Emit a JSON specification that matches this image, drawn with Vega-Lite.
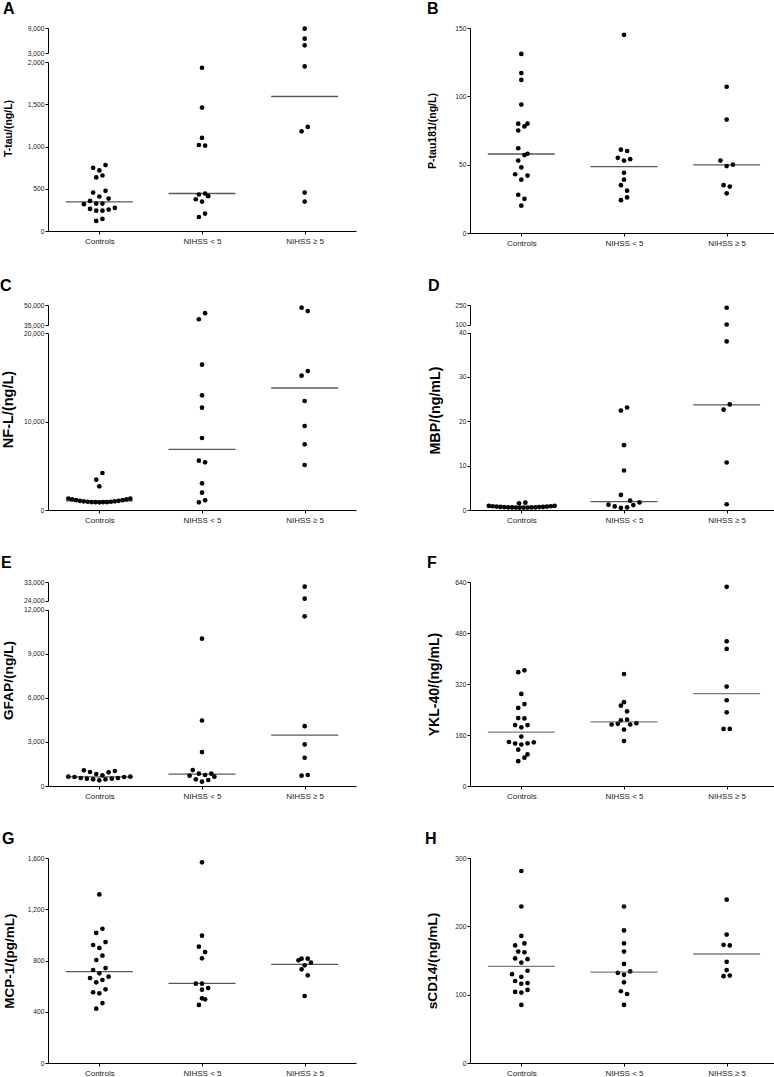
{
  "$schema": "https://vega.github.io/schema/vega-lite/v6.json",
  "padding": {"left": 0, "top": 1, "right": 0, "bottom": 0},
  "background": "white",
  "config": {
    "view": {"stroke": null},
    "font": "Liberation Sans",
    "title": {"fontSize": 16, "fontWeight": "bold", "anchor": "start", "frame": "bounds", "offset": 8, "color": "#000"},
    "axis": {"grid": false, "domainColor": "#000", "tickColor": "#000", "labelColor": "#222", "domainWidth": 1, "tickWidth": 1, "tickSize": 3},
    "axisX": {"labelFontSize": 8, "labelPadding": 3, "labelAngle": 0, "title": null},
    "axisY": {"labelFontSize": 6.7, "labelPadding": 1, "titleFontWeight": "bold", "titleColor": "#000", "titleFontSize": 14, "format": ",d"}
  },
  "datasets": {
    "pts": [
      {"p":"A","g":"Controls","v":748,"s":-2},{"p":"A","g":"Controls","v":780,"s":2},{"p":"A","g":"Controls","v":717,"s":0},{"p":"A","g":"Controls","v":634,"s":-1},{"p":"A","g":"Controls","v":657,"s":1},{"p":"A","g":"Controls","v":455,"s":-2},{"p":"A","g":"Controls","v":475,"s":2},{"p":"A","g":"Controls","v":408,"s":0},{"p":"A","g":"Controls","v":356,"s":-3},{"p":"A","g":"Controls","v":384,"s":3},{"p":"A","g":"Controls","v":317,"s":-5},{"p":"A","g":"Controls","v":325,"s":-1},{"p":"A","g":"Controls","v":325,"s":1},{"p":"A","g":"Controls","v":261,"s":-3},{"p":"A","g":"Controls","v":241,"s":-1},{"p":"A","g":"Controls","v":241,"s":1},{"p":"A","g":"Controls","v":253,"s":3},{"p":"A","g":"Controls","v":273,"s":5},{"p":"A","g":"Controls","v":143,"s":1},{"p":"A","g":"Controls","v":119,"s":-1},
      {"p":"A","g":"NIHSS < 5","v":1932,"s":0},{"p":"A","g":"NIHSS < 5","v":1461,"s":0},{"p":"A","g":"NIHSS < 5","v":1101,"s":0},{"p":"A","g":"NIHSS < 5","v":1018,"s":-1},{"p":"A","g":"NIHSS < 5","v":1010,"s":1},{"p":"A","g":"NIHSS < 5","v":432,"s":-1},{"p":"A","g":"NIHSS < 5","v":444,"s":1},{"p":"A","g":"NIHSS < 5","v":412,"s":2},{"p":"A","g":"NIHSS < 5","v":376,"s":-2},{"p":"A","g":"NIHSS < 5","v":348,"s":0},{"p":"A","g":"NIHSS < 5","v":206,"s":1},{"p":"A","g":"NIHSS < 5","v":166,"s":-1},
      {"p":"A","g":"NIHSS ≥ 5","v":8840,"s":0},{"p":"A","g":"NIHSS ≥ 5","v":6440,"s":0},{"p":"A","g":"NIHSS ≥ 5","v":4840,"s":0},{"p":"A","g":"NIHSS ≥ 5","v":1948,"s":0},{"p":"A","g":"NIHSS ≥ 5","v":1232,"s":1},{"p":"A","g":"NIHSS ≥ 5","v":1180,"s":-1},{"p":"A","g":"NIHSS ≥ 5","v":455,"s":0},{"p":"A","g":"NIHSS ≥ 5","v":348,"s":0},

      {"p":"B","g":"Controls","v":131,"s":0},{"p":"B","g":"Controls","v":117,"s":0},{"p":"B","g":"Controls","v":112,"s":0},{"p":"B","g":"Controls","v":94,"s":0},{"p":"B","g":"Controls","v":80,"s":-1},{"p":"B","g":"Controls","v":80,"s":2},{"p":"B","g":"Controls","v":78,"s":1},{"p":"B","g":"Controls","v":75,"s":-1},{"p":"B","g":"Controls","v":62,"s":-1},{"p":"B","g":"Controls","v":57,"s":1},{"p":"B","g":"Controls","v":58,"s":2},{"p":"B","g":"Controls","v":53,"s":-1},{"p":"B","g":"Controls","v":48,"s":0},{"p":"B","g":"Controls","v":43,"s":-2},{"p":"B","g":"Controls","v":42,"s":2},{"p":"B","g":"Controls","v":39,"s":0},{"p":"B","g":"Controls","v":28,"s":-1},{"p":"B","g":"Controls","v":25,"s":1},{"p":"B","g":"Controls","v":20,"s":0},
      {"p":"B","g":"NIHSS < 5","v":145,"s":0},{"p":"B","g":"NIHSS < 5","v":61,"s":-1},{"p":"B","g":"NIHSS < 5","v":60,"s":1},{"p":"B","g":"NIHSS < 5","v":55,"s":-2},{"p":"B","g":"NIHSS < 5","v":53,"s":0},{"p":"B","g":"NIHSS < 5","v":54,"s":2},{"p":"B","g":"NIHSS < 5","v":44,"s":0},{"p":"B","g":"NIHSS < 5","v":39,"s":0},{"p":"B","g":"NIHSS < 5","v":35,"s":-1},{"p":"B","g":"NIHSS < 5","v":31,"s":1},{"p":"B","g":"NIHSS < 5","v":24,"s":-1},{"p":"B","g":"NIHSS < 5","v":26,"s":1},
      {"p":"B","g":"NIHSS ≥ 5","v":107,"s":0},{"p":"B","g":"NIHSS ≥ 5","v":83,"s":0},{"p":"B","g":"NIHSS ≥ 5","v":53,"s":-2},{"p":"B","g":"NIHSS ≥ 5","v":49,"s":0},{"p":"B","g":"NIHSS ≥ 5","v":50,"s":2},{"p":"B","g":"NIHSS ≥ 5","v":35,"s":-1},{"p":"B","g":"NIHSS ≥ 5","v":34,"s":1},{"p":"B","g":"NIHSS ≥ 5","v":29,"s":0},

      {"p":"C","g":"Controls","v":1300,"s":-10},{"p":"C","g":"Controls","v":1200,"s":-8.75},{"p":"C","g":"Controls","v":1110,"s":-7.5},{"p":"C","g":"Controls","v":1040,"s":-6.25},{"p":"C","g":"Controls","v":980,"s":-5},{"p":"C","g":"Controls","v":930,"s":-3.75},{"p":"C","g":"Controls","v":900,"s":-2.5},{"p":"C","g":"Controls","v":880,"s":-1.25},{"p":"C","g":"Controls","v":870,"s":0},{"p":"C","g":"Controls","v":880,"s":1.25},{"p":"C","g":"Controls","v":900,"s":2.5},{"p":"C","g":"Controls","v":930,"s":3.75},{"p":"C","g":"Controls","v":980,"s":5},{"p":"C","g":"Controls","v":1040,"s":6.25},{"p":"C","g":"Controls","v":1110,"s":7.5},{"p":"C","g":"Controls","v":1200,"s":8.75},{"p":"C","g":"Controls","v":1280,"s":10},{"p":"C","g":"Controls","v":4180,"s":1},{"p":"C","g":"Controls","v":3427,"s":-1},{"p":"C","g":"Controls","v":2674,"s":0},
      {"p":"C","g":"NIHSS < 5","v":43900,"s":1},{"p":"C","g":"NIHSS < 5","v":39300,"s":-1},{"p":"C","g":"NIHSS < 5","v":16420,"s":0},{"p":"C","g":"NIHSS < 5","v":12955,"s":0},{"p":"C","g":"NIHSS < 5","v":11562,"s":0},{"p":"C","g":"NIHSS < 5","v":8135,"s":0},{"p":"C","g":"NIHSS < 5","v":5574,"s":-1},{"p":"C","g":"NIHSS < 5","v":5385,"s":1},{"p":"C","g":"NIHSS < 5","v":3013,"s":0},{"p":"C","g":"NIHSS < 5","v":1958,"s":0},{"p":"C","g":"NIHSS < 5","v":866,"s":-1},{"p":"C","g":"NIHSS < 5","v":1092,"s":1},
      {"p":"C","g":"NIHSS ≥ 5","v":47966,"s":-1},{"p":"C","g":"NIHSS ≥ 5","v":45424,"s":1},{"p":"C","g":"NIHSS ≥ 5","v":15704,"s":1},{"p":"C","g":"NIHSS ≥ 5","v":15177,"s":-1},{"p":"C","g":"NIHSS ≥ 5","v":12315,"s":0},{"p":"C","g":"NIHSS ≥ 5","v":9490,"s":0},{"p":"C","g":"NIHSS ≥ 5","v":7419,"s":0},{"p":"C","g":"NIHSS ≥ 5","v":5084,"s":0},

      {"p":"D","g":"Controls","v":0.95,"s":-10.5},{"p":"D","g":"Controls","v":0.85,"s":-9.25},{"p":"D","g":"Controls","v":0.77,"s":-8},{"p":"D","g":"Controls","v":0.7,"s":-6.75},{"p":"D","g":"Controls","v":0.65,"s":-5.5},{"p":"D","g":"Controls","v":0.61,"s":-4.25},{"p":"D","g":"Controls","v":0.58,"s":-3},{"p":"D","g":"Controls","v":0.56,"s":-1.75},{"p":"D","g":"Controls","v":0.55,"s":-0.5},{"p":"D","g":"Controls","v":0.55,"s":0.75},{"p":"D","g":"Controls","v":0.56,"s":2},{"p":"D","g":"Controls","v":0.58,"s":3.25},{"p":"D","g":"Controls","v":0.61,"s":4.5},{"p":"D","g":"Controls","v":0.65,"s":5.75},{"p":"D","g":"Controls","v":0.7,"s":7},{"p":"D","g":"Controls","v":0.77,"s":8.25},{"p":"D","g":"Controls","v":0.85,"s":9.5},{"p":"D","g":"Controls","v":0.95,"s":10.75},{"p":"D","g":"Controls","v":1.5,"s":-0.75},{"p":"D","g":"Controls","v":1.65,"s":1.3},
      {"p":"D","g":"NIHSS < 5","v":22.4,"s":-1},{"p":"D","g":"NIHSS < 5","v":23.1,"s":1},{"p":"D","g":"NIHSS < 5","v":14.6,"s":0},{"p":"D","g":"NIHSS < 5","v":8.9,"s":0},{"p":"D","g":"NIHSS < 5","v":3.4,"s":-1},{"p":"D","g":"NIHSS < 5","v":2.1,"s":2},{"p":"D","g":"NIHSS < 5","v":1.7,"s":5},{"p":"D","g":"NIHSS < 5","v":1.2,"s":-5},{"p":"D","g":"NIHSS < 5","v":0.8,"s":-3},{"p":"D","g":"NIHSS < 5","v":0.5,"s":-1},{"p":"D","g":"NIHSS < 5","v":0.6,"s":1},{"p":"D","g":"NIHSS < 5","v":1.1,"s":3},
      {"p":"D","g":"NIHSS ≥ 5","v":229,"s":0},{"p":"D","g":"NIHSS ≥ 5","v":100,"s":0},{"p":"D","g":"NIHSS ≥ 5","v":38,"s":0},{"p":"D","g":"NIHSS ≥ 5","v":23.8,"s":1},{"p":"D","g":"NIHSS ≥ 5","v":22.6,"s":-1},{"p":"D","g":"NIHSS ≥ 5","v":10.7,"s":0},{"p":"D","g":"NIHSS ≥ 5","v":1.3,"s":0},

      {"p":"E","g":"Controls","v":1064,"s":-5},{"p":"E","g":"Controls","v":951,"s":-3},{"p":"E","g":"Controls","v":815,"s":-1},{"p":"E","g":"Controls","v":724,"s":1},{"p":"E","g":"Controls","v":928,"s":3},{"p":"E","g":"Controls","v":1019,"s":5},{"p":"E","g":"Controls","v":634,"s":-10},{"p":"E","g":"Controls","v":611,"s":-8},{"p":"E","g":"Controls","v":543,"s":-6},{"p":"E","g":"Controls","v":498,"s":-4},{"p":"E","g":"Controls","v":453,"s":-2},{"p":"E","g":"Controls","v":385,"s":0},{"p":"E","g":"Controls","v":453,"s":2},{"p":"E","g":"Controls","v":498,"s":4},{"p":"E","g":"Controls","v":543,"s":6},{"p":"E","g":"Controls","v":611,"s":8},{"p":"E","g":"Controls","v":634,"s":10},
      {"p":"E","g":"NIHSS < 5","v":10030,"s":0},{"p":"E","g":"NIHSS < 5","v":4460,"s":0},{"p":"E","g":"NIHSS < 5","v":2309,"s":0},{"p":"E","g":"NIHSS < 5","v":1087,"s":-3},{"p":"E","g":"NIHSS < 5","v":702,"s":-4},{"p":"E","g":"NIHSS < 5","v":838,"s":-1},{"p":"E","g":"NIHSS < 5","v":747,"s":1},{"p":"E","g":"NIHSS < 5","v":838,"s":3},{"p":"E","g":"NIHSS < 5","v":634,"s":4},{"p":"E","g":"NIHSS < 5","v":453,"s":-2},{"p":"E","g":"NIHSS < 5","v":294,"s":0},{"p":"E","g":"NIHSS < 5","v":408,"s":2},
      {"p":"E","g":"NIHSS ≥ 5","v":30750,"s":0},{"p":"E","g":"NIHSS ≥ 5","v":24965,"s":0},{"p":"E","g":"NIHSS ≥ 5","v":11546,"s":0},{"p":"E","g":"NIHSS ≥ 5","v":4075,"s":0},{"p":"E","g":"NIHSS ≥ 5","v":2830,"s":0},{"p":"E","g":"NIHSS ≥ 5","v":1924,"s":0},{"p":"E","g":"NIHSS ≥ 5","v":702,"s":-1},{"p":"E","g":"NIHSS ≥ 5","v":747,"s":1},

      {"p":"F","g":"Controls","v":357,"s":-1},{"p":"F","g":"Controls","v":363,"s":1},{"p":"F","g":"Controls","v":289,"s":0},{"p":"F","g":"Controls","v":245,"s":-1},{"p":"F","g":"Controls","v":257,"s":1},{"p":"F","g":"Controls","v":213,"s":-1},{"p":"F","g":"Controls","v":212,"s":1},{"p":"F","g":"Controls","v":191,"s":-2},{"p":"F","g":"Controls","v":191,"s":2},{"p":"F","g":"Controls","v":184,"s":0},{"p":"F","g":"Controls","v":155,"s":0},{"p":"F","g":"Controls","v":138,"s":-4},{"p":"F","g":"Controls","v":133,"s":-2},{"p":"F","g":"Controls","v":130,"s":0},{"p":"F","g":"Controls","v":134,"s":2},{"p":"F","g":"Controls","v":137,"s":4},{"p":"F","g":"Controls","v":114,"s":-1},{"p":"F","g":"Controls","v":99,"s":2},{"p":"F","g":"Controls","v":89,"s":1},{"p":"F","g":"Controls","v":78,"s":-1},
      {"p":"F","g":"NIHSS < 5","v":351,"s":0},{"p":"F","g":"NIHSS < 5","v":252,"s":-1},{"p":"F","g":"NIHSS < 5","v":263,"s":0},{"p":"F","g":"NIHSS < 5","v":234,"s":1},{"p":"F","g":"NIHSS < 5","v":206,"s":-1},{"p":"F","g":"NIHSS < 5","v":208,"s":1},{"p":"F","g":"NIHSS < 5","v":193,"s":-4},{"p":"F","g":"NIHSS < 5","v":195,"s":-2},{"p":"F","g":"NIHSS < 5","v":177,"s":0},{"p":"F","g":"NIHSS < 5","v":193,"s":2},{"p":"F","g":"NIHSS < 5","v":197,"s":4},{"p":"F","g":"NIHSS < 5","v":141,"s":0},
      {"p":"F","g":"NIHSS ≥ 5","v":625,"s":0},{"p":"F","g":"NIHSS ≥ 5","v":454,"s":0},{"p":"F","g":"NIHSS ≥ 5","v":430,"s":0},{"p":"F","g":"NIHSS ≥ 5","v":312,"s":0},{"p":"F","g":"NIHSS ≥ 5","v":269,"s":0},{"p":"F","g":"NIHSS ≥ 5","v":231,"s":0},{"p":"F","g":"NIHSS ≥ 5","v":179,"s":-1},{"p":"F","g":"NIHSS ≥ 5","v":179,"s":1},

      {"p":"G","g":"Controls","v":1316,"s":0},{"p":"G","g":"Controls","v":1048,"s":1},{"p":"G","g":"Controls","v":1015,"s":-1},{"p":"G","g":"Controls","v":944,"s":2},{"p":"G","g":"Controls","v":921,"s":-2},{"p":"G","g":"Controls","v":898,"s":0},{"p":"G","g":"Controls","v":838,"s":1},{"p":"G","g":"Controls","v":804,"s":-1},{"p":"G","g":"Controls","v":741,"s":2},{"p":"G","g":"Controls","v":726,"s":-2},{"p":"G","g":"Controls","v":700,"s":0},{"p":"G","g":"Controls","v":674,"s":3},{"p":"G","g":"Controls","v":663,"s":-3},{"p":"G","g":"Controls","v":648,"s":1},{"p":"G","g":"Controls","v":630,"s":-1},{"p":"G","g":"Controls","v":575,"s":2},{"p":"G","g":"Controls","v":552,"s":-2},{"p":"G","g":"Controls","v":544,"s":0},{"p":"G","g":"Controls","v":468,"s":1},{"p":"G","g":"Controls","v":424,"s":-1},
      {"p":"G","g":"NIHSS < 5","v":1566,"s":0},{"p":"G","g":"NIHSS < 5","v":994,"s":0},{"p":"G","g":"NIHSS < 5","v":908,"s":-1},{"p":"G","g":"NIHSS < 5","v":866,"s":1},{"p":"G","g":"NIHSS < 5","v":817,"s":0},{"p":"G","g":"NIHSS < 5","v":619,"s":-2},{"p":"G","g":"NIHSS < 5","v":619,"s":0},{"p":"G","g":"NIHSS < 5","v":572,"s":0},{"p":"G","g":"NIHSS < 5","v":585,"s":2},{"p":"G","g":"NIHSS < 5","v":505,"s":0},{"p":"G","g":"NIHSS < 5","v":497,"s":1},{"p":"G","g":"NIHSS < 5","v":453,"s":-1},
      {"p":"G","g":"NIHSS ≥ 5","v":801,"s":-2},{"p":"G","g":"NIHSS ≥ 5","v":814,"s":-1},{"p":"G","g":"NIHSS ≥ 5","v":814,"s":1},{"p":"G","g":"NIHSS ≥ 5","v":762,"s":0},{"p":"G","g":"NIHSS ≥ 5","v":783,"s":2},{"p":"G","g":"NIHSS ≥ 5","v":731,"s":-1},{"p":"G","g":"NIHSS ≥ 5","v":684,"s":1},{"p":"G","g":"NIHSS ≥ 5","v":523,"s":0},

      {"p":"H","g":"Controls","v":281,"s":0},{"p":"H","g":"Controls","v":229,"s":0},{"p":"H","g":"Controls","v":186,"s":0},{"p":"H","g":"Controls","v":172,"s":-2},{"p":"H","g":"Controls","v":175,"s":1},{"p":"H","g":"Controls","v":163,"s":-1},{"p":"H","g":"Controls","v":162,"s":1},{"p":"H","g":"Controls","v":153,"s":-2},{"p":"H","g":"Controls","v":152,"s":2},{"p":"H","g":"Controls","v":147,"s":0},{"p":"H","g":"Controls","v":135,"s":2},{"p":"H","g":"Controls","v":130,"s":-3},{"p":"H","g":"Controls","v":126,"s":0},{"p":"H","g":"Controls","v":120,"s":-2},{"p":"H","g":"Controls","v":117,"s":2},{"p":"H","g":"Controls","v":116,"s":0},{"p":"H","g":"Controls","v":104,"s":-2},{"p":"H","g":"Controls","v":103,"s":0},{"p":"H","g":"Controls","v":107,"s":2},{"p":"H","g":"Controls","v":85,"s":0},
      {"p":"H","g":"NIHSS < 5","v":229,"s":0},{"p":"H","g":"NIHSS < 5","v":194,"s":0},{"p":"H","g":"NIHSS < 5","v":175,"s":0},{"p":"H","g":"NIHSS < 5","v":163,"s":0},{"p":"H","g":"NIHSS < 5","v":145,"s":0},{"p":"H","g":"NIHSS < 5","v":132,"s":-2},{"p":"H","g":"NIHSS < 5","v":134,"s":2},{"p":"H","g":"NIHSS < 5","v":129,"s":0},{"p":"H","g":"NIHSS < 5","v":118,"s":0},{"p":"H","g":"NIHSS < 5","v":105,"s":-1},{"p":"H","g":"NIHSS < 5","v":101,"s":1},{"p":"H","g":"NIHSS < 5","v":85,"s":0},
      {"p":"H","g":"NIHSS ≥ 5","v":239,"s":0},{"p":"H","g":"NIHSS ≥ 5","v":188,"s":0},{"p":"H","g":"NIHSS ≥ 5","v":173,"s":-1},{"p":"H","g":"NIHSS ≥ 5","v":172,"s":1},{"p":"H","g":"NIHSS ≥ 5","v":148,"s":0},{"p":"H","g":"NIHSS ≥ 5","v":136,"s":0},{"p":"H","g":"NIHSS ≥ 5","v":127,"s":-1},{"p":"H","g":"NIHSS ≥ 5","v":128,"s":1}
    ],
    "med": [
      {"p":"A","g":"Controls","v":344},{"p":"A","g":"NIHSS < 5","v":444},{"p":"A","g":"NIHSS ≥ 5","v":1592},
      {"p":"B","g":"Controls","v":57.8},{"p":"B","g":"NIHSS < 5","v":48.5},{"p":"B","g":"NIHSS ≥ 5","v":49.8},
      {"p":"C","g":"Controls","v":1040},{"p":"C","g":"NIHSS < 5","v":6854},{"p":"C","g":"NIHSS ≥ 5","v":13784},
      {"p":"D","g":"Controls","v":0.6},{"p":"D","g":"NIHSS < 5","v":1.9},{"p":"D","g":"NIHSS ≥ 5","v":23.7},
      {"p":"E","g":"Controls","v":620},{"p":"E","g":"NIHSS < 5","v":815},{"p":"E","g":"NIHSS ≥ 5","v":3464},
      {"p":"F","g":"Controls","v":169},{"p":"F","g":"NIHSS < 5","v":201},{"p":"F","g":"NIHSS ≥ 5","v":290},
      {"p":"G","g":"Controls","v":713},{"p":"G","g":"NIHSS < 5","v":622},{"p":"G","g":"NIHSS ≥ 5","v":770},
      {"p":"H","g":"Controls","v":141.5},{"p":"H","g":"NIHSS < 5","v":133},{"p":"H","g":"NIHSS ≥ 5","v":159.5}
    ]
  },
  "columns": 2,
  "spacing": {"row": 31, "column": 69},
  "concat": [
    {
      "width": 308, "height": 203,
      "title": {"text": "A"},
      "resolve": {"scale": {"y": "independent"}, "axis": {"y": "independent"}},
      "layer": [
        {"data": {"name": "pts"}, "transform": [{"filter": "datum.p === 'A' && datum.v > 2000"}],
         "mark": {"type": "circle", "size": 22, "opacity": 1, "color": "#000"},
         "encoding": {
           "x": {"field": "g", "type": "nominal", "scale": {"type": "point", "padding": 0.5, "domain": ["Controls", "NIHSS < 5", "NIHSS ≥ 5"]}, "axis": {"title": null}},
           "xOffset": {"field": "s", "type": "quantitative", "scale": {"domain": [-10, 10], "range": [-31, 31]}},
           "y": {"field": "v", "type": "quantitative", "scale": {"domain": [3000, 9000], "range": [25, 0], "nice": false, "zero": false}, "axis": {"orient": "left", "values": [3000, 9000], "title": null}}}},
        {"layer": [
          {"data": {"name": "pts"}, "transform": [{"filter": "datum.p === 'A' && datum.v <= 2000"}],
           "mark": {"type": "circle", "size": 22, "opacity": 1, "color": "#000"},
           "encoding": {
             "x": {"field": "g", "type": "nominal", "scale": {"type": "point", "padding": 0.5, "domain": ["Controls", "NIHSS < 5", "NIHSS ≥ 5"]}, "axis": {"title": null}},
             "xOffset": {"field": "s", "type": "quantitative", "scale": {"domain": [-10, 10], "range": [-31, 31]}},
             "y": {"field": "v", "type": "quantitative", "scale": {"domain": [0, 2000], "range": [203, 34], "nice": false, "zero": false}, "axis": {"orient": "left", "values": [0, 500, 1000, 1500, 2000], "title": "T-tau/(ng/L)", "titleFontSize": 10.5, "titleX": -35, "titleY": 100}}}},
          {"data": {"name": "med"}, "transform": [{"filter": "datum.p === 'A'"}],
           "mark": {"type": "tick", "size": 67, "thickness": 1.3, "color": "#111"},
           "encoding": {
             "x": {"field": "g", "type": "nominal"},
             "y": {"field": "v", "type": "quantitative"}}}
        ]}
      ]
    },
    {
      "width": 308, "height": 205,
      "title": {"text": "B"},
      "layer": [
        {"data": {"name": "pts"}, "transform": [{"filter": "datum.p === 'B'"}],
         "mark": {"type": "circle", "size": 22, "opacity": 1, "color": "#000"},
         "encoding": {
           "x": {"field": "g", "type": "nominal", "scale": {"type": "point", "padding": 0.5, "domain": ["Controls", "NIHSS < 5", "NIHSS ≥ 5"]}, "axis": {"title": null}},
           "xOffset": {"field": "s", "type": "quantitative", "scale": {"domain": [-10, 10], "range": [-31, 31]}},
           "y": {"field": "v", "type": "quantitative", "scale": {"domain": [0, 150], "nice": false}, "axis": {"values": [0, 50, 100, 150], "title": "P-tau181/(ng/L)", "titleFontSize": 10.5, "titleX": -33}}}},
        {"data": {"name": "med"}, "transform": [{"filter": "datum.p === 'B'"}],
         "mark": {"type": "tick", "size": 67, "thickness": 1.3, "color": "#111"},
         "encoding": {"x": {"field": "g", "type": "nominal"}, "y": {"field": "v", "type": "quantitative"}}}
      ]
    },
    {
      "width": 308, "height": 205,
      "title": {"text": "C"},
      "resolve": {"scale": {"y": "independent"}, "axis": {"y": "independent"}},
      "layer": [
        {"data": {"name": "pts"}, "transform": [{"filter": "datum.p === 'C' && datum.v > 20000"}],
         "mark": {"type": "circle", "size": 22, "opacity": 1, "color": "#000"},
         "encoding": {
           "x": {"field": "g", "type": "nominal", "scale": {"type": "point", "padding": 0.5, "domain": ["Controls", "NIHSS < 5", "NIHSS ≥ 5"]}, "axis": {"title": null}},
           "xOffset": {"field": "s", "type": "quantitative", "scale": {"domain": [-10, 10], "range": [-31, 31]}},
           "y": {"field": "v", "type": "quantitative", "scale": {"domain": [35000, 50000], "range": [20, 0], "nice": false, "zero": false}, "axis": {"orient": "left", "values": [35000, 50000], "title": null}}}},
        {"layer": [
          {"data": {"name": "pts"}, "transform": [{"filter": "datum.p === 'C' && datum.v <= 20000"}],
           "mark": {"type": "circle", "size": 22, "opacity": 1, "color": "#000"},
           "encoding": {
             "x": {"field": "g", "type": "nominal", "scale": {"type": "point", "padding": 0.5, "domain": ["Controls", "NIHSS < 5", "NIHSS ≥ 5"]}, "axis": {"title": null}},
             "xOffset": {"field": "s", "type": "quantitative", "scale": {"domain": [-10, 10], "range": [-31, 31]}},
             "y": {"field": "v", "type": "quantitative", "scale": {"domain": [0, 20000], "range": [205, 28], "nice": false, "zero": false}, "axis": {"orient": "left", "values": [0, 10000, 20000], "title": "NF-L/(ng/L)", "titleFontSize": 14.5, "titleX": -33, "titleY": 104}}}},
          {"data": {"name": "med"}, "transform": [{"filter": "datum.p === 'C'"}],
           "mark": {"type": "tick", "size": 67, "thickness": 1.3, "color": "#111"},
           "encoding": {"x": {"field": "g", "type": "nominal"}, "y": {"field": "v", "type": "quantitative"}}}
        ]}
      ]
    },
    {
      "width": 308, "height": 205,
      "title": {"text": "D"},
      "resolve": {"scale": {"y": "independent"}, "axis": {"y": "independent"}},
      "layer": [
        {"data": {"name": "pts"}, "transform": [{"filter": "datum.p === 'D' && datum.v > 40"}],
         "mark": {"type": "circle", "size": 22, "opacity": 1, "color": "#000"},
         "encoding": {
           "x": {"field": "g", "type": "nominal", "scale": {"type": "point", "padding": 0.5, "domain": ["Controls", "NIHSS < 5", "NIHSS ≥ 5"]}, "axis": {"title": null}},
           "xOffset": {"field": "s", "type": "quantitative", "scale": {"domain": [-10, 10], "range": [-31, 31]}},
           "y": {"field": "v", "type": "quantitative", "scale": {"domain": [100, 250], "range": [19.5, 0], "nice": false, "zero": false}, "axis": {"orient": "left", "values": [100, 250], "title": null}}}},
        {"layer": [
          {"data": {"name": "pts"}, "transform": [{"filter": "datum.p === 'D' && datum.v <= 40"}],
           "mark": {"type": "circle", "size": 22, "opacity": 1, "color": "#000"},
           "encoding": {
             "x": {"field": "g", "type": "nominal", "scale": {"type": "point", "padding": 0.5, "domain": ["Controls", "NIHSS < 5", "NIHSS ≥ 5"]}, "axis": {"title": null}},
             "xOffset": {"field": "s", "type": "quantitative", "scale": {"domain": [-10, 10], "range": [-31, 31]}},
             "y": {"field": "v", "type": "quantitative", "scale": {"domain": [0, 40], "range": [205, 27.5], "nice": false, "zero": false}, "axis": {"orient": "left", "values": [0, 10, 20, 30, 40], "title": "MBP/(ng/mL)", "titleFontSize": 14.3, "titleX": -28, "titleY": 105}}}},
          {"data": {"name": "med"}, "transform": [{"filter": "datum.p === 'D'"}],
           "mark": {"type": "tick", "size": 67, "thickness": 1.3, "color": "#111"},
           "encoding": {"x": {"field": "g", "type": "nominal"}, "y": {"field": "v", "type": "quantitative"}}}
        ]}
      ]
    },
    {
      "width": 308, "height": 204,
      "title": {"text": "E"},
      "resolve": {"scale": {"y": "independent"}, "axis": {"y": "independent"}},
      "layer": [
        {"data": {"name": "pts"}, "transform": [{"filter": "datum.p === 'E' && datum.v > 12000"}],
         "mark": {"type": "circle", "size": 22, "opacity": 1, "color": "#000"},
         "encoding": {
           "x": {"field": "g", "type": "nominal", "scale": {"type": "point", "padding": 0.5, "domain": ["Controls", "NIHSS < 5", "NIHSS ≥ 5"]}, "axis": {"title": null}},
           "xOffset": {"field": "s", "type": "quantitative", "scale": {"domain": [-10, 10], "range": [-31, 31]}},
           "y": {"field": "v", "type": "quantitative", "scale": {"domain": [24000, 33000], "range": [18.7, 0], "nice": false, "zero": false}, "axis": {"orient": "left", "values": [24000, 33000], "title": null}}}},
        {"layer": [
          {"data": {"name": "pts"}, "transform": [{"filter": "datum.p === 'E' && datum.v <= 12000"}],
           "mark": {"type": "circle", "size": 22, "opacity": 1, "color": "#000"},
           "encoding": {
             "x": {"field": "g", "type": "nominal", "scale": {"type": "point", "padding": 0.5, "domain": ["Controls", "NIHSS < 5", "NIHSS ≥ 5"]}, "axis": {"title": null}},
             "xOffset": {"field": "s", "type": "quantitative", "scale": {"domain": [-10, 10], "range": [-31, 31]}},
             "y": {"field": "v", "type": "quantitative", "scale": {"domain": [0, 12000], "range": [204, 27.7], "nice": false, "zero": false}, "axis": {"orient": "left", "values": [0, 3000, 6000, 9000, 12000], "title": "GFAP/(ng/L)", "titleFontSize": 13.7, "titleX": -33, "titleY": 98}}}},
          {"data": {"name": "med"}, "transform": [{"filter": "datum.p === 'E'"}],
           "mark": {"type": "tick", "size": 67, "thickness": 1.3, "color": "#111"},
           "encoding": {"x": {"field": "g", "type": "nominal"}, "y": {"field": "v", "type": "quantitative"}}}
        ]}
      ]
    },
    {
      "width": 308, "height": 204,
      "title": {"text": "F"},
      "layer": [
        {"data": {"name": "pts"}, "transform": [{"filter": "datum.p === 'F'"}],
         "mark": {"type": "circle", "size": 22, "opacity": 1, "color": "#000"},
         "encoding": {
           "x": {"field": "g", "type": "nominal", "scale": {"type": "point", "padding": 0.5, "domain": ["Controls", "NIHSS < 5", "NIHSS ≥ 5"]}, "axis": {"title": null}},
           "xOffset": {"field": "s", "type": "quantitative", "scale": {"domain": [-10, 10], "range": [-31, 31]}},
           "y": {"field": "v", "type": "quantitative", "scale": {"domain": [0, 640], "nice": false}, "axis": {"values": [0, 160, 320, 480, 640], "title": "YKL-40/(ng/mL)", "titleFontSize": 14, "titleX": -29}}}},
        {"data": {"name": "med"}, "transform": [{"filter": "datum.p === 'F'"}],
         "mark": {"type": "tick", "size": 67, "thickness": 1.3, "color": "#444"},
         "encoding": {"x": {"field": "g", "type": "nominal"}, "y": {"field": "v", "type": "quantitative"}}}
      ]
    },
    {
      "width": 308, "height": 205,
      "title": {"text": "G"},
      "layer": [
        {"data": {"name": "pts"}, "transform": [{"filter": "datum.p === 'G'"}],
         "mark": {"type": "circle", "size": 22, "opacity": 1, "color": "#000"},
         "encoding": {
           "x": {"field": "g", "type": "nominal", "scale": {"type": "point", "padding": 0.5, "domain": ["Controls", "NIHSS < 5", "NIHSS ≥ 5"]}, "axis": {"title": null}},
           "xOffset": {"field": "s", "type": "quantitative", "scale": {"domain": [-10, 10], "range": [-31, 31]}},
           "y": {"field": "v", "type": "quantitative", "scale": {"domain": [0, 1600], "nice": false}, "axis": {"values": [0, 400, 800, 1200, 1600], "title": "MCP-1/(pg/mL)", "titleFontSize": 13.5, "titleX": -32}}}},
        {"data": {"name": "med"}, "transform": [{"filter": "datum.p === 'G'"}],
         "mark": {"type": "tick", "size": 67, "thickness": 1.3, "color": "#111"},
         "encoding": {"x": {"field": "g", "type": "nominal"}, "y": {"field": "v", "type": "quantitative"}}}
      ]
    },
    {
      "width": 308, "height": 205,
      "title": {"text": "H"},
      "layer": [
        {"data": {"name": "pts"}, "transform": [{"filter": "datum.p === 'H'"}],
         "mark": {"type": "circle", "size": 22, "opacity": 1, "color": "#000"},
         "encoding": {
           "x": {"field": "g", "type": "nominal", "scale": {"type": "point", "padding": 0.5, "domain": ["Controls", "NIHSS < 5", "NIHSS ≥ 5"]}, "axis": {"title": null}},
           "xOffset": {"field": "s", "type": "quantitative", "scale": {"domain": [-10, 10], "range": [-31, 31]}},
           "y": {"field": "v", "type": "quantitative", "scale": {"domain": [0, 300], "nice": false}, "axis": {"values": [0, 100, 200, 300], "title": "sCD14/(ng/mL)", "titleFontSize": 13.7, "titleX": -31}}}},
        {"data": {"name": "med"}, "transform": [{"filter": "datum.p === 'H'"}],
         "mark": {"type": "tick", "size": 67, "thickness": 1.3, "color": "#444"},
         "encoding": {"x": {"field": "g", "type": "nominal"}, "y": {"field": "v", "type": "quantitative"}}}
      ]
    }
  ]
}
